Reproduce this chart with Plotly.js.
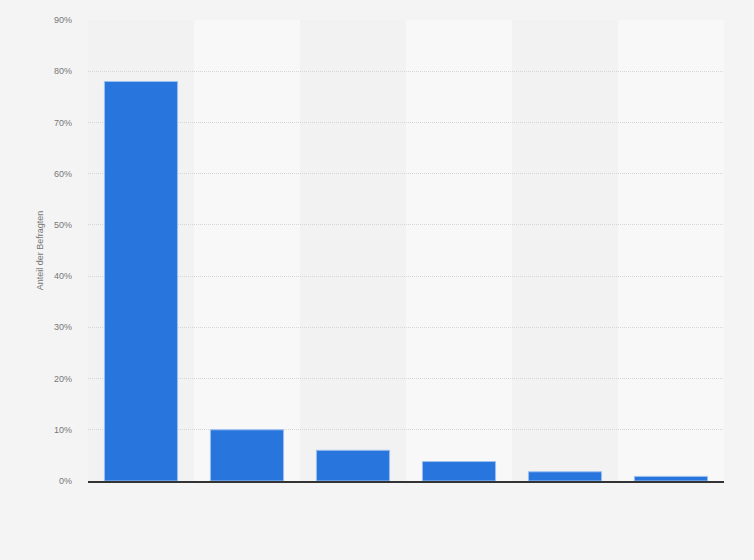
<!DOCTYPE html>
<html>
<head>
<meta charset="utf-8">
<script src="https://cdn.plot.ly/plotly-3.0.1.min.js"></script>
<style>
  html, body { margin: 0; padding: 0; background: #f4f4f4; }
</style>
</head>
<body>
<div id="chart" style="width:754px;height:560px;"></div>
<script>
//------------INPUT DATA------------
// categories (no labels are shown on the x axis)
const CATEGORIES = ["1", "2", "3", "4", "5", "6"];
// share of respondents, %
const VALUES = [78, 10, 6, 3.8, 1.8, 0.9];
// y ticks
const Y_TICKS = [0, 10, 20, 30, 40, 50, 60, 70, 80, 90];
const Y_TICK_LABELS = Y_TICKS.map((v) => v + "%");
//------------END INPUT DATA------------

// alternating background columns behind the bars
function bandShapes() {
  const shapes = [];
  CATEGORIES.forEach((c, i) => {
    shapes.push({
      type: "rect",
      layer: "below",
      xref: "x",
      yref: "paper",
      x0: i - 0.5,
      x1: i + 0.5,
      y0: 0,
      y1: 1,
      fillcolor: i % 2 === 0 ? "#f2f2f2" : "#f8f8f8",
      line: { width: 0 },
    });
  });
  return shapes;
}

function barChart() {
  const trace1 = {
    x: CATEGORIES,
    y: VALUES,
    type: "bar",
    hoverinfo: "none",
    marker: {
      color: "#2876dd",
      line: { color: "#9dc0ef", width: 1 },
    },
  };

  const layout = {
    width: 754,
    height: 560,
    margin: { t: 20, b: 79, l: 88, r: 30 },
    paper_bgcolor: "#f4f4f4",
    plot_bgcolor: "rgba(0,0,0,0)",
    bargap: 0.31,
    showlegend: false,
    font: { family: "Liberation Sans, Arial, sans-serif", size: 9, color: "#777" },
    shapes: bandShapes(),
    xaxis: {
      type: "category",
      showticklabels: false,
      ticks: "",
      showgrid: false,
      showline: true,
      linecolor: "#333",
      linewidth: 1.5,
      zeroline: false,
      fixedrange: true,
    },
    yaxis: {
      range: [0, 90],
      tickvals: Y_TICKS,
      ticktext: Y_TICK_LABELS,
      ticks: "",
      ticklabelstandoff: 15,
      showgrid: true,
      gridcolor: "#d6d6d6",
      griddash: "1px,1px",
      gridwidth: 1,
      zeroline: false,
      tickfont: { size: 9, color: "#777" },
      title: {
        text: "Anteil der Befragten",
        font: { size: 9, color: "#777" },
        standoff: 8,
      },
      fixedrange: true,
    },
  };

  Plotly.newPlot("chart", [trace1], layout, { displayModeBar: false, staticPlot: true });
}

barChart();
</script>
</body>
</html>
